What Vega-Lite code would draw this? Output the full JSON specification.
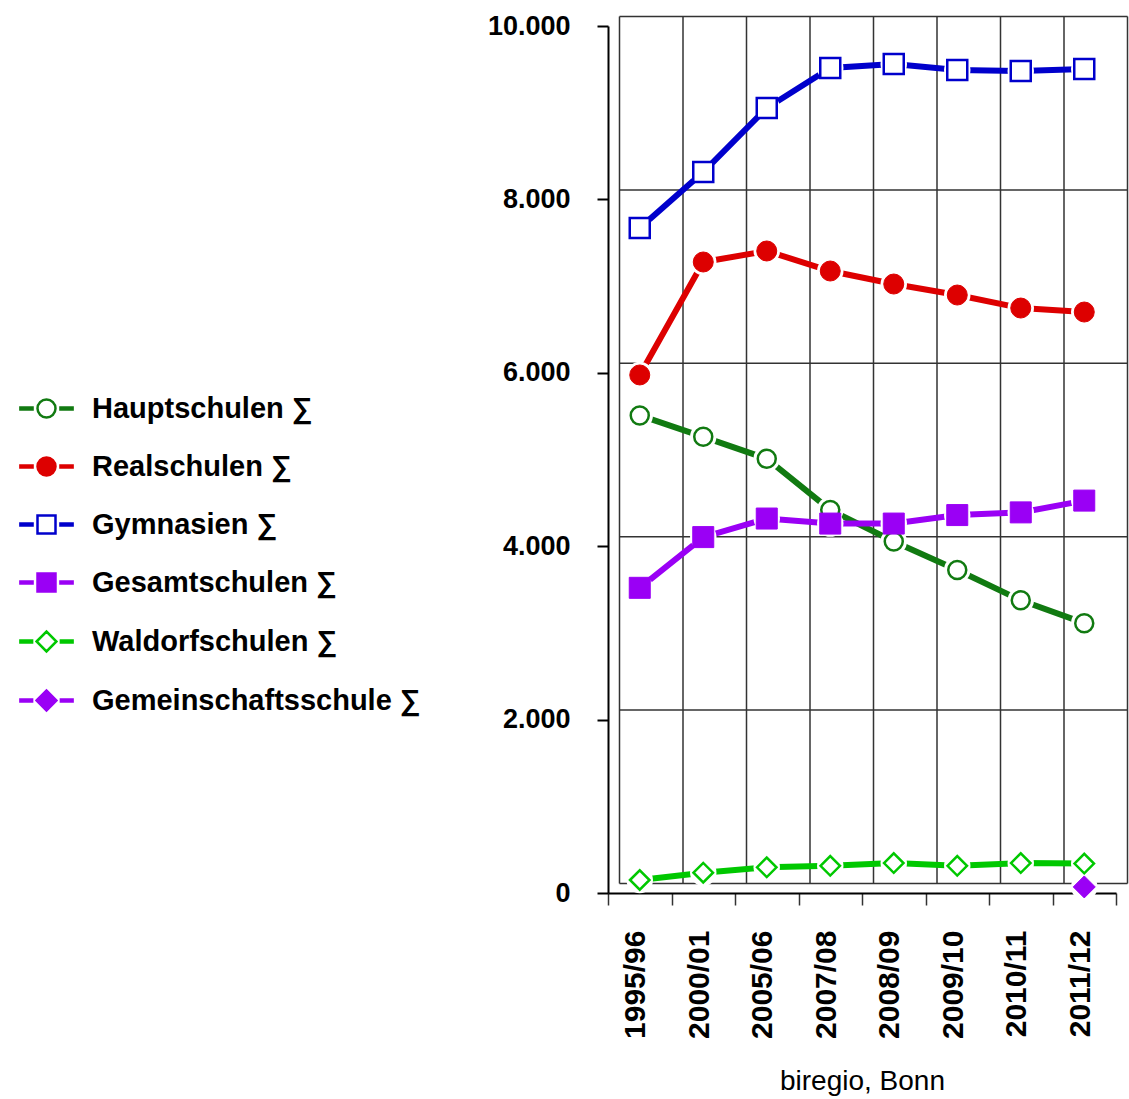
{
  "$schema": "https://vega.github.io/schema/vega-lite/v6.json",
  "autosize": {"type": "none"},
  "padding": {"left": 608, "top": 26, "right": 13, "bottom": 206},
  "width": 508,
  "height": 867,
  "background": "white",
  "config": {
    "view": {"stroke": null},
    "font": "Liberation Sans"
  },
  "data": {
    "values": [
      {"Jahr": "1995/96", "Schulart": "Hauptschulen ∑", "Schueler": 5508},
      {"Jahr": "2000/01", "Schulart": "Hauptschulen ∑", "Schueler": 5262},
      {"Jahr": "2005/06", "Schulart": "Hauptschulen ∑", "Schueler": 5009},
      {"Jahr": "2007/08", "Schulart": "Hauptschulen ∑", "Schueler": 4418},
      {"Jahr": "2008/09", "Schulart": "Hauptschulen ∑", "Schueler": 4054},
      {"Jahr": "2009/10", "Schulart": "Hauptschulen ∑", "Schueler": 3726},
      {"Jahr": "2010/11", "Schulart": "Hauptschulen ∑", "Schueler": 3376},
      {"Jahr": "2011/12", "Schulart": "Hauptschulen ∑", "Schueler": 3112},
      {"Jahr": "1995/96", "Schulart": "Realschulen ∑", "Schueler": 5975},
      {"Jahr": "2000/01", "Schulart": "Realschulen ∑", "Schueler": 7278},
      {"Jahr": "2005/06", "Schulart": "Realschulen ∑", "Schueler": 7405},
      {"Jahr": "2007/08", "Schulart": "Realschulen ∑", "Schueler": 7174},
      {"Jahr": "2008/09", "Schulart": "Realschulen ∑", "Schueler": 7024},
      {"Jahr": "2009/10", "Schulart": "Realschulen ∑", "Schueler": 6897},
      {"Jahr": "2010/11", "Schulart": "Realschulen ∑", "Schueler": 6747},
      {"Jahr": "2011/12", "Schulart": "Realschulen ∑", "Schueler": 6701},
      {"Jahr": "1995/96", "Schulart": "Gymnasien ∑", "Schueler": 7670},
      {"Jahr": "2000/01", "Schulart": "Gymnasien ∑", "Schueler": 8316},
      {"Jahr": "2005/06", "Schulart": "Gymnasien ∑", "Schueler": 9054},
      {"Jahr": "2007/08", "Schulart": "Gymnasien ∑", "Schueler": 9516},
      {"Jahr": "2008/09", "Schulart": "Gymnasien ∑", "Schueler": 9562},
      {"Jahr": "2009/10", "Schulart": "Gymnasien ∑", "Schueler": 9492},
      {"Jahr": "2010/11", "Schulart": "Gymnasien ∑", "Schueler": 9481},
      {"Jahr": "2011/12", "Schulart": "Gymnasien ∑", "Schueler": 9504},
      {"Jahr": "1995/96", "Schulart": "Gesamtschulen ∑", "Schueler": 3520},
      {"Jahr": "2000/01", "Schulart": "Gesamtschulen ∑", "Schueler": 4105},
      {"Jahr": "2005/06", "Schulart": "Gesamtschulen ∑", "Schueler": 4319},
      {"Jahr": "2007/08", "Schulart": "Gesamtschulen ∑", "Schueler": 4261},
      {"Jahr": "2008/09", "Schulart": "Gesamtschulen ∑", "Schueler": 4261},
      {"Jahr": "2009/10", "Schulart": "Gesamtschulen ∑", "Schueler": 4359},
      {"Jahr": "2010/11", "Schulart": "Gesamtschulen ∑", "Schueler": 4390},
      {"Jahr": "2011/12", "Schulart": "Gesamtschulen ∑", "Schueler": 4526},
      {"Jahr": "1995/96", "Schulart": "Waldorfschulen ∑", "Schueler": 150},
      {"Jahr": "2000/01", "Schulart": "Waldorfschulen ∑", "Schueler": 234},
      {"Jahr": "2005/06", "Schulart": "Waldorfschulen ∑", "Schueler": 296},
      {"Jahr": "2007/08", "Schulart": "Waldorfschulen ∑", "Schueler": 314},
      {"Jahr": "2008/09", "Schulart": "Waldorfschulen ∑", "Schueler": 345},
      {"Jahr": "2009/10", "Schulart": "Waldorfschulen ∑", "Schueler": 314},
      {"Jahr": "2010/11", "Schulart": "Waldorfschulen ∑", "Schueler": 345},
      {"Jahr": "2011/12", "Schulart": "Waldorfschulen ∑", "Schueler": 340},
      {"Jahr": "2011/12", "Schulart": "Gemeinschaftsschule ∑", "Schueler": 70}
    ]
  },
  "encoding": {
    "x": {
      "field": "Jahr",
      "type": "nominal",
      "sort": null,
      "scale": {"type": "band", "paddingInner": 0, "paddingOuter": 0},
      "axis": {
        "title": "biregio, Bonn",
        "titleFont": "Liberation Sans",
        "titleFontSize": 28,
        "titleFontWeight": "normal",
        "titleColor": "black",
        "titlePadding": 29,
        "labelAngle": -90,
        "labelFont": "Liberation Sans",
        "labelFontSize": 30,
        "labelFontWeight": "bold",
        "labelColor": "black",
        "labelPadding": 25,
        "labelOffset": -4,
        "tickBand": "extent",
        "ticks": true,
        "tickSize": 12,
        "tickColor": "#333333",
        "tickWidth": 1.5,
        "domain": true,
        "domainColor": "black",
        "domainWidth": 2,
        "grid": true,
        "gridColor": "#333333",
        "gridWidth": 1.5,
        "encoding": {
          "grid": {
            "x": {"value": {"expr": "(datum.extra ? range('x')[1] : scale('x', datum.value)) + 11"}},
            "y": {"value": -10},
            "y2": {"value": {"expr": "-height - 10"}}
          }
        }
      }
    },
    "y": {
      "field": "Schueler",
      "type": "quantitative",
      "scale": {"domain": [0, 10000], "nice": false},
      "axis": {
        "title": null,
        "values": [0, 2000, 4000, 6000, 8000, 10000],
        "labelExpr": "replace(format(datum.value, ','), ',', '.')",
        "labelFont": "Liberation Sans",
        "labelFontSize": 27,
        "labelFontWeight": "bold",
        "labelColor": "black",
        "labelPadding": 27,
        "tickSize": 11,
        "tickColor": "black",
        "tickWidth": 2,
        "domainColor": "black",
        "domainWidth": 2,
        "grid": true,
        "gridColor": "#333333",
        "gridWidth": 1.5,
        "encoding": {
          "grid": {
            "x": {"value": 11},
            "x2": {"value": {"expr": "width + 11"}},
            "y": {"value": {"expr": "scale('y', datum.value) - 10"}}
          }
        }
      }
    }
  },
  "layer": [
    {
      "mark": {"type": "line", "strokeWidth": 6},
      "encoding": {
        "color": {
          "field": "Schulart",
          "type": "nominal",
          "scale": {
            "range": ["#9a00f5", "#9a00f5", "#0000cc", "#117a11", "#dd0000", "#00c800"]
          },
          "legend": null
        }
      }
    },
    {
      "mark": {"type": "point", "shape": "circle", "size": 700, "filled": true, "fill": "white", "opacity": 1},
      "encoding": {}
    },
    {
      "transform": [{"filter": "datum.Schulart === 'Hauptschulen ∑'"}],
      "mark": {"type": "point", "shape": "circle", "size": 324, "filled": true, "fill": "white", "stroke": "#117a11", "strokeWidth": 2.5, "opacity": 1}
    },
    {
      "transform": [{"filter": "datum.Schulart === 'Realschulen ∑'"}],
      "mark": {"type": "point", "shape": "circle", "size": 400, "filled": true, "fill": "#dd0000", "stroke": "#dd0000", "strokeWidth": 1, "opacity": 1}
    },
    {
      "transform": [{"filter": "datum.Schulart === 'Gymnasien ∑'"}],
      "mark": {"type": "point", "shape": "square", "size": 400, "filled": true, "fill": "white", "stroke": "#0000cc", "strokeWidth": 2.5, "opacity": 1}
    },
    {
      "transform": [{"filter": "datum.Schulart === 'Gesamtschulen ∑'"}],
      "mark": {"type": "point", "shape": "square", "size": 441, "filled": true, "fill": "#9a00f5", "stroke": "#9a00f5", "strokeWidth": 1, "opacity": 1}
    },
    {
      "transform": [{"filter": "datum.Schulart === 'Waldorfschulen ∑'"}],
      "mark": {"type": "point", "shape": "diamond", "size": 380, "filled": true, "fill": "white", "stroke": "#00c800", "strokeWidth": 2.5, "opacity": 1}
    },
    {
      "transform": [{"filter": "datum.Schulart === 'Gemeinschaftsschule ∑'"}],
      "mark": {"type": "point", "shape": "diamond", "size": 484, "filled": true, "fill": "#9a00f5", "stroke": "#9a00f5", "strokeWidth": 1, "opacity": 1}
    },
    {
      "transform": [{"filter": "false"}],
      "mark": {"type": "point", "opacity": 1, "strokeWidth": 2.5, "size": 324},
      "encoding": {
        "stroke": {
          "field": "Schulart",
          "type": "nominal",
          "scale": {
            "domain": ["Hauptschulen ∑", "Realschulen ∑", "Gymnasien ∑", "Gesamtschulen ∑", "Waldorfschulen ∑", "Gemeinschaftsschule ∑"],
            "range": ["#117a11", "#dd0000", "#0000cc", "#9a00f5", "#00c800", "#9a00f5"]
          },
          "legend": {
            "title": null,
            "orient": "none",
            "legendX": -576,
            "legendY": 368,
            "padding": 0,
            "labelFont": "Liberation Sans",
            "labelFontSize": 29,
            "labelFontWeight": "bold",
            "labelColor": "black",
            "labelLimit": 0,
            "labelOffset": 31,
            "rowPadding": 28,
            "symbolSize": 324,
            "symbolStrokeWidth": 2.5
          }
        },
        "fill": {
          "field": "Schulart",
          "type": "nominal",
          "scale": {
            "domain": ["Hauptschulen ∑", "Realschulen ∑", "Gymnasien ∑", "Gesamtschulen ∑", "Waldorfschulen ∑", "Gemeinschaftsschule ∑"],
            "range": ["#ffffff", "#dd0000", "#ffffff", "#9a00f5", "#ffffff", "#9a00f5"]
          },
          "legend": {"title": null}
        },
        "shape": {
          "field": "Schulart",
          "type": "nominal",
          "scale": {
            "domain": ["Hauptschulen ∑", "Realschulen ∑", "Gymnasien ∑", "Gesamtschulen ∑", "Waldorfschulen ∑", "Gemeinschaftsschule ∑"],
            "range": [
              "M-2.9,-0.12H-1.55V0.12H-2.9Z M1.55,-0.12H2.9V0.12H1.55Z M-1,0A1,1,0,1,0,1,0A1,1,0,1,0,-1,0Z",
              "M-2.9,-0.12H-1.55V0.12H-2.9Z M1.55,-0.12H2.9V0.12H1.55Z M-1,0A1,1,0,1,0,1,0A1,1,0,1,0,-1,0Z",
              "M-2.9,-0.12H-1.55V0.12H-2.9Z M1.55,-0.12H2.9V0.12H1.55Z M-1,-1H1V1H-1Z",
              "M-2.9,-0.12H-1.55V0.12H-2.9Z M1.55,-0.12H2.9V0.12H1.55Z M-1,-1H1V1H-1Z",
              "M-2.9,-0.12H-1.6V0.12H-2.9Z M1.6,-0.12H2.9V0.12H1.6Z M-1.1,0L0,-1.1L1.1,0L0,1.1Z",
              "M-2.9,-0.12H-1.6V0.12H-2.9Z M1.6,-0.12H2.9V0.12H1.6Z M-1.1,0L0,-1.1L1.1,0L0,1.1Z"
            ]
          },
          "legend": {"title": null}
        }
      }
    }
  ]
}
